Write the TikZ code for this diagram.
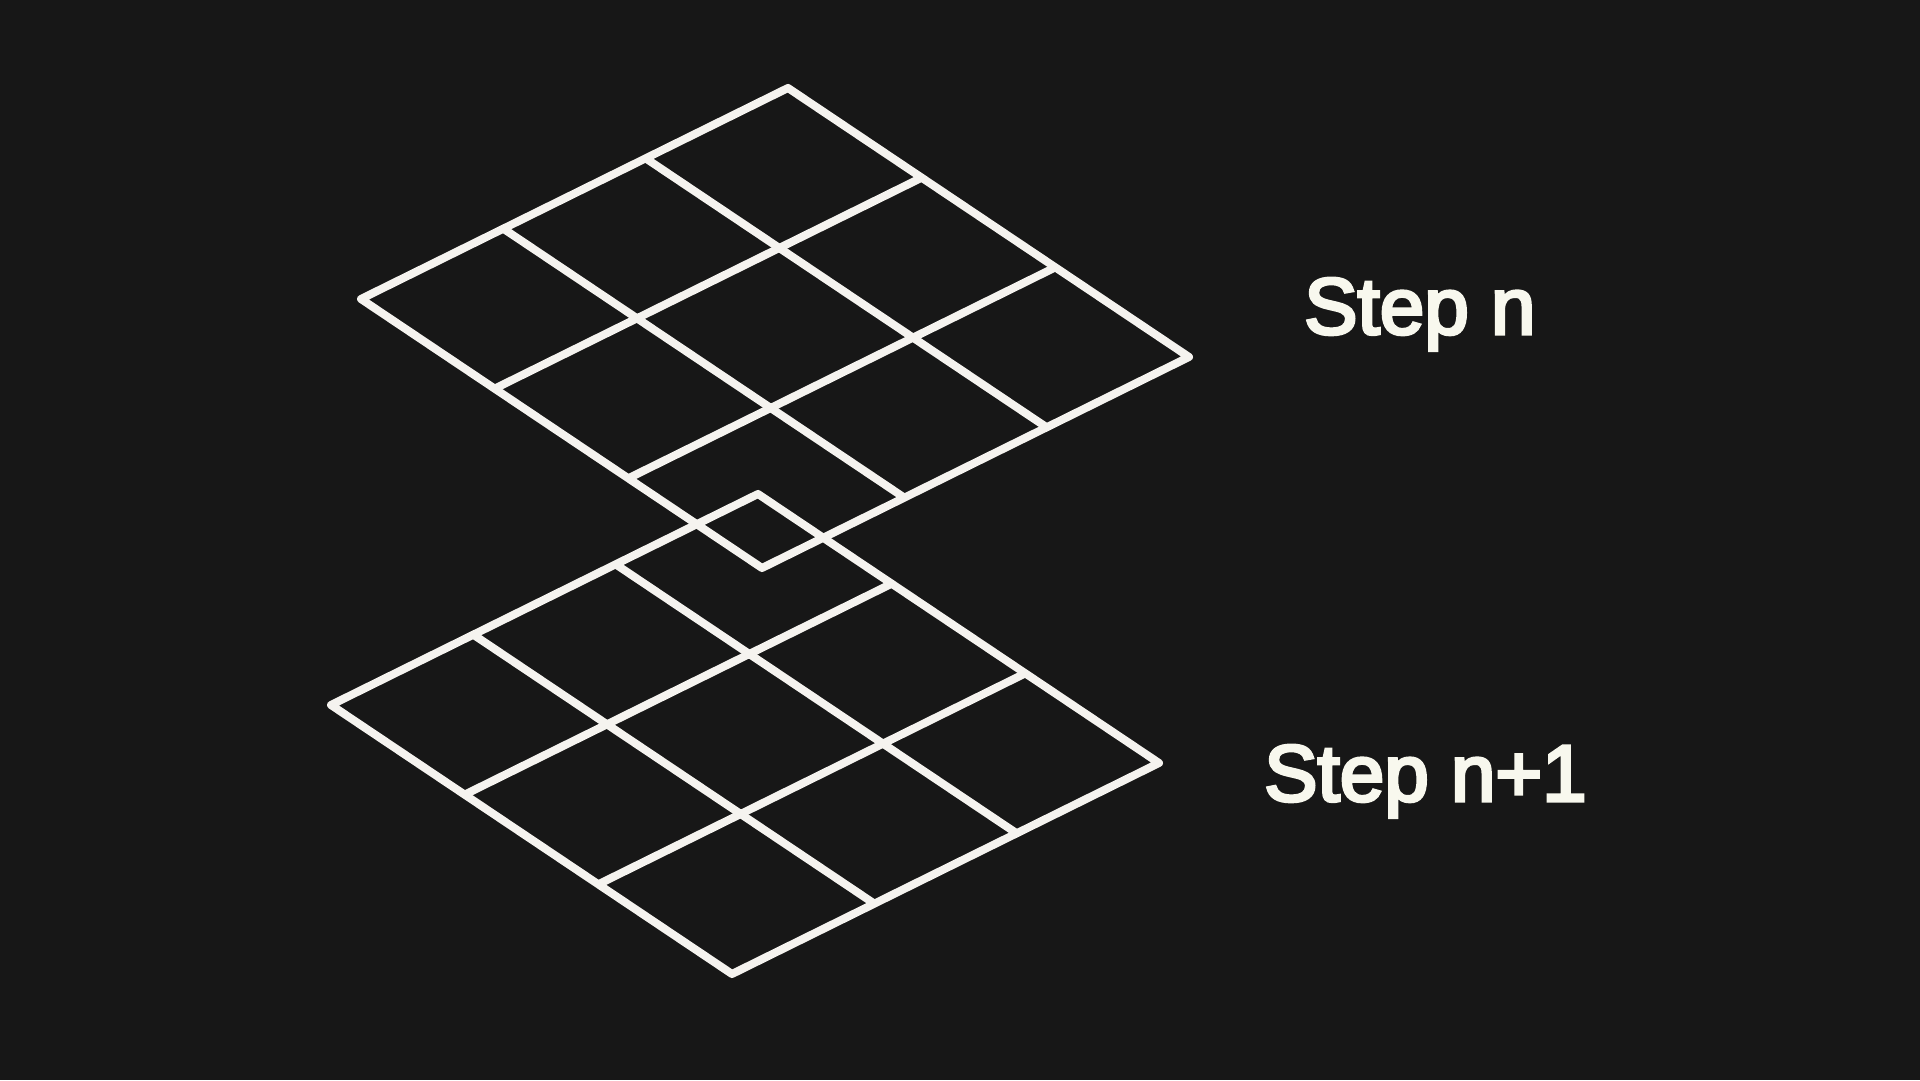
\documentclass[tikz,border=0pt]{standalone}
\usepackage{fontspec}
\setmainfont{Liberation Sans}
\newfontfamily\lblfont[RawFeature={embolden=4}]{Liberation Sans}
\usetikzlibrary{calc}
\definecolor{bgdark}{HTML}{171717}
\definecolor{ink}{HTML}{F5F3EF}
\definecolor{txt}{HTML}{F8F8EE}
\begin{document}
\begin{tikzpicture}[x=1pt,y=1pt,
		edge/.style={draw=ink,line width=8pt,line join=round},
		lbl/.style={text=txt,font=\lblfont\fontsize{80}{80}\selectfont,anchor=base west,inner sep=0pt}]
	\useasboundingbox[fill=bgdark] (0,0) rectangle (1920,1080);
	\foreach \g/\ox/\oy in {up/361/781, low/331/375}{
		\path (\ox,\oy) coordinate (\g-L)
		++(427,211) coordinate (\g-T)
		++(401,-269) coordinate (\g-R)
		++(-427,-211) coordinate (\g-B);
		\foreach \i in {1,2}{
			\draw[edge] ($(\g-L)!\i/3!(\g-T)$) -- ($(\g-B)!\i/3!(\g-R)$);
			\draw[edge] ($(\g-L)!\i/3!(\g-B)$) -- ($(\g-T)!\i/3!(\g-R)$);
		}
		\draw[edge] (\g-L)--(\g-T)--(\g-R)--(\g-B)--cycle;
	}
	\node[lbl] (stepn) at (1304,746) {Step n};
	\node[lbl] (stepnext) at (1264,279) {Step n+1};
\end{tikzpicture}
\end{document}
